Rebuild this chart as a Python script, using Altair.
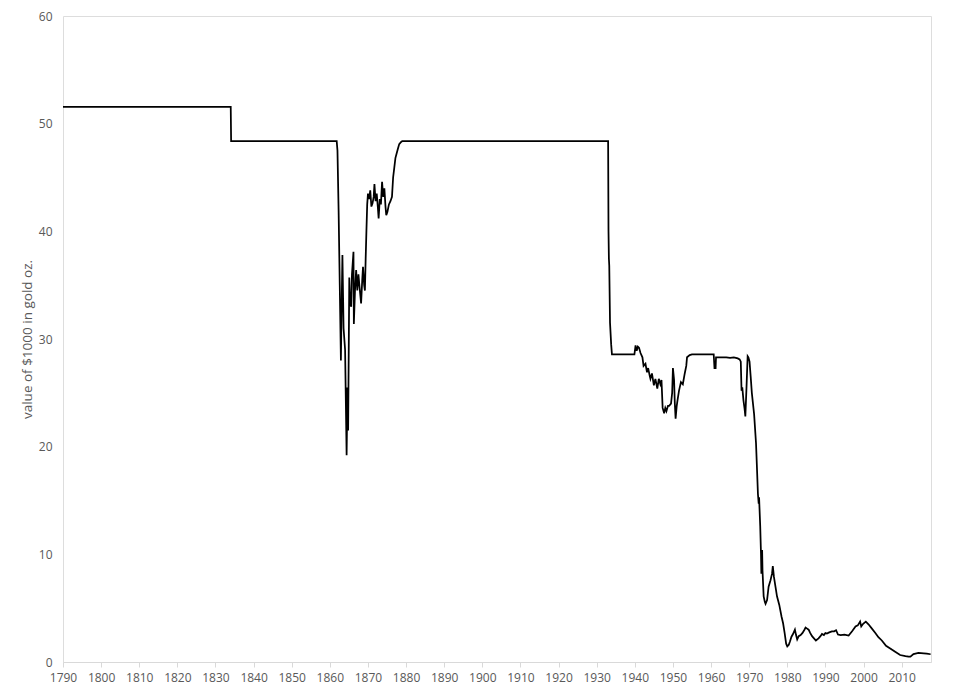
import altair as alt
import pandas as pd

years = [
    1790, 1834.0, 1834.1, 1861.8, 1862.0, 1862.3, 1862.6, 1862.9, 1863.1, 1863.3,
    1863.6, 1864.0, 1864.4, 1864.5, 1864.6, 1864.8, 1865.1, 1865.3, 1865.6, 1865.8,
    1866.2, 1866.3, 1866.6, 1866.9, 1867.2, 1867.5, 1867.8, 1868.2, 1868.5, 1868.7,
    1869.0, 1869.2, 1869.4, 1869.6, 1869.8, 1870.0, 1870.3, 1870.6, 1870.9, 1871.2,
    1871.5, 1871.7, 1872.0, 1872.3, 1872.6, 1872.8, 1873.1, 1873.4, 1873.7, 1874.0,
    1874.3, 1874.6, 1874.8, 1875.1, 1875.5, 1875.9, 1876.3, 1876.6, 1876.9, 1877.2,
    1877.5, 1877.8, 1878.2, 1878.7, 1879.0,
    1933.0, 1933.1, 1933.2, 1933.3, 1933.5, 1933.8, 1934.0,
    1939.9, 1940.2, 1940.5, 1940.8, 1941.1, 1941.5, 1942.0, 1942.3, 1942.8, 1943.2,
    1943.5, 1943.9, 1944.1, 1944.5, 1945.0, 1945.4, 1945.9, 1946.3, 1946.7, 1947.0,
    1947.3, 1947.7, 1948.0, 1948.3, 1948.7, 1949.0, 1949.5, 1949.8, 1950.0, 1950.3,
    1950.5, 1950.7, 1951.0, 1951.2, 1951.6, 1952.1, 1952.6, 1953.1, 1953.5, 1953.7,
    1954.4, 1955.0, 1960.7, 1960.9, 1961.2, 1961.3, 1964.0, 1965.0, 1966.0, 1967.0,
    1967.5, 1967.8, 1968.0, 1968.2, 1968.5, 1968.8, 1969.0, 1969.3, 1969.6, 1969.8,
    1970.1, 1970.4, 1970.7, 1971.0, 1971.3, 1971.8, 1972.1, 1972.3, 1972.5, 1972.6,
    1972.9, 1973.1, 1973.2, 1973.4, 1973.5, 1973.8, 1974.1, 1974.3, 1974.7, 1975.1,
    1975.6, 1976.0, 1976.2, 1976.5, 1976.9, 1977.3, 1977.9, 1978.5, 1978.9, 1979.3,
    1979.7, 1980.0, 1980.4, 1980.7, 1981.1, 1981.5, 1982.0, 1982.3, 1982.6, 1983.0,
    1983.5, 1984.0, 1984.5, 1984.8, 1985.2, 1985.6, 1986.0, 1986.5, 1987.0, 1987.5,
    1988.2, 1988.7, 1989.1, 1989.6, 1990.0, 1990.4, 1991.0, 1991.7, 1992.3, 1992.8,
    1993.3, 1994.0, 1995.0, 1996.1, 1997.0, 1997.9, 1998.5, 1999.1, 1999.4, 1999.9,
    2000.6, 2001.3, 2002.2, 2003.1, 2003.9, 2004.8, 2005.9, 2007.0, 2008.3, 2009.6,
    2011.0, 2011.8, 2012.3, 2013.1, 2014.4, 2015.8, 2016.6, 2017.6,
]

values = [
    51.57, 51.57, 48.38, 48.38, 47.5, 41.9, 35.0, 28.0, 33.3, 37.8,
    31.0, 29.0, 19.2, 22.0, 25.5, 21.5, 35.7, 33.5, 33.0, 36.0,
    38.1, 31.4, 34.5, 36.4, 34.5, 36.0, 34.8, 33.3, 35.5, 36.7,
    35.0, 34.5, 37.5, 40.1, 42.5, 43.5, 43.0, 43.8, 42.3, 42.6,
    43.2, 44.4, 42.8, 43.5, 42.2, 41.2, 43.0, 42.5, 44.6, 43.2,
    44.0, 42.3, 41.5, 41.8, 42.5, 42.8, 43.2, 45.0, 45.9, 46.8,
    47.2, 47.6, 48.1, 48.3, 48.38,
    48.38, 40.0, 37.5, 36.8, 31.5, 29.5, 28.57,
    28.57, 29.4, 28.9, 29.3, 29.2, 28.7, 28.3, 27.5, 27.7, 26.9,
    27.3, 26.6, 26.3, 26.8, 25.7, 26.3, 25.4, 26.3, 25.8, 26.2,
    23.6, 23.1, 23.6, 23.3, 23.8, 23.8, 24.0, 25.0, 27.3, 26.2,
    24.0, 22.6, 23.8, 24.3, 25.2, 26.0, 25.8, 26.8, 27.5, 28.3,
    28.5, 28.57, 28.57, 27.3, 27.3, 28.3, 28.3, 28.25, 28.3, 28.2,
    28.1, 27.9, 25.2, 25.5, 24.3, 23.5, 22.8, 25.5, 28.4, 28.3,
    27.9, 26.5, 25.0, 24.0, 23.0, 20.3, 17.5, 15.6, 14.7, 15.3,
    12.6, 10.1, 8.2, 10.4, 8.5, 6.1, 5.6, 5.4, 5.75, 7.0,
    7.6, 8.2, 8.9, 7.9, 7.0, 6.1, 5.3, 4.2, 3.6, 2.7,
    1.7, 1.45, 1.6, 1.9, 2.35, 2.6, 3.0, 2.5, 2.1, 2.4,
    2.5, 2.7, 3.0, 3.2, 3.1, 3.0, 2.7, 2.4, 2.2, 2.0,
    2.2, 2.4, 2.6, 2.5, 2.7, 2.65, 2.75, 2.85, 2.85, 2.95,
    2.55, 2.5, 2.55, 2.45, 2.85, 3.3, 3.4, 3.75, 3.3, 3.55,
    3.75, 3.5, 3.1, 2.7, 2.3, 2.0, 1.5, 1.25, 0.95, 0.65,
    0.55, 0.5, 0.5, 0.74, 0.85, 0.8, 0.77, 0.72,
]

x_ticks = list(range(1790, 2011, 10))
y_ticks = [0, 10, 20, 30, 40, 50, 60]

df = pd.DataFrame({"year": years, "value": values})

FONT = "Open Sans"
GRAY = "#595959"
W, H = 868, 646

line = alt.Chart(df).mark_line(color="black", strokeWidth=1.75).encode(
    x=alt.X(
        "year:Q",
        scale=alt.Scale(domain=[1790, 2017.7], nice=False, zero=False),
        axis=alt.Axis(
            values=x_ticks, format="d", title=None, grid=False,
            domainColor="#d9d9d9", tickColor="#d9d9d9", tickSize=5,
            labelColor=GRAY, labelFont=FONT, labelFontSize=12, labelPadding=5,
            labelFlush=False,
        ),
    ),
    y=alt.Y(
        "value:Q",
        scale=alt.Scale(domain=[0, 60], nice=False),
        axis=alt.Axis(
            values=y_ticks, title="value of $1000 in gold oz.", grid=False,
            domain=False, ticks=False, tickSize=0, labelPadding=11,
            labelColor=GRAY, labelFont=FONT, labelFontSize=12,
            titleColor=GRAY, titleFont=FONT, titleFontSize=13.5, titleFontWeight="normal",
            titleAngle=270, titleX=-36, titleY=H / 2, titleBaseline="middle",
            titleAlign="center",
        ),
    ),
)

frame = alt.Chart(pd.DataFrame({"a": [0]})).mark_rect(
    fill=None, stroke="#e6e6e6", strokeWidth=1, clip=False
).encode(
    x=alt.value(-61.5), x2=alt.value(891.5), y=alt.value(-15.5), y2=alt.value(678.5)
)

chart = alt.layer(frame, line).properties(
    width=W, height=H,
    autosize=alt.AutoSizeParams(type="none"),
    padding={"left": 55, "top": 8, "right": 20, "bottom": 30},
).configure_view(stroke=None).configure(background="white")

chart.save("out.html", embed_options={"renderer": "svg", "actions": False})
